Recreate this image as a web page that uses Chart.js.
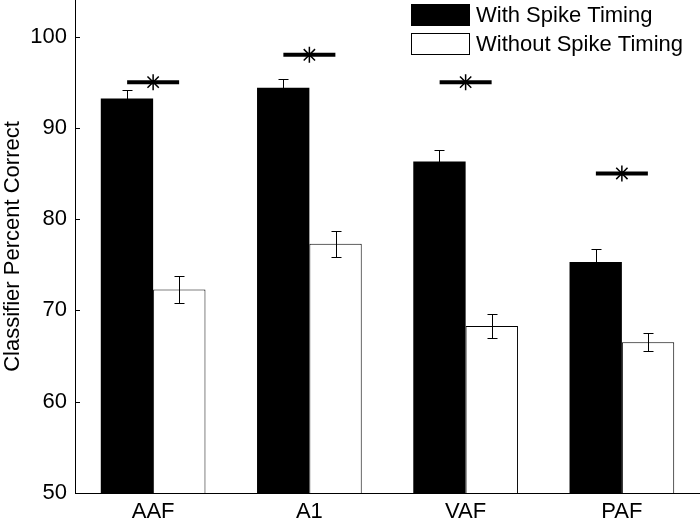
<!DOCTYPE html>
<html>
<head>
<meta charset="utf-8">
<script src="https://cdn.jsdelivr.net/npm/chart.js@4"></script>
<style>
  html, body { margin: 0; padding: 0; background: #fff; }
  #wrap { width: 700px; height: 519px; }
</style>
</head>
<body>
<div id="wrap"><canvas id="chart" width="700" height="519"></canvas></div>
<script>
// data
const categories = ['AAF', 'A1', 'VAF', 'PAF'];
const withTiming = [93.2, 94.4, 86.3, 75.3];
const withTimingErr = [0.95, 0.9, 1.3, 1.45];
const withoutTiming = [72.3, 77.3, 68.3, 66.5];
const withoutTimingErr = [1.45, 1.45, 1.35, 1.0];
const sigLevel = [95, 98, 95, 85];
const yTicks = [50, 60, 70, 80, 90, 100];

const FONT = "'Liberation Sans', Arial, sans-serif";

// error bars on top of the bars
const errorBars = {
    id: 'errorBars',
    afterDatasetsDraw(chart) {
        const ctx = chart.ctx;
        const y = chart.scales.y;
        [[0, withTimingErr], [1, withoutTimingErr]].forEach(([di, errs]) => {
            const meta = chart.getDatasetMeta(di);
            const vals = chart.data.datasets[di].data;
            meta.data.forEach((bar, i) => {
                const x = Math.round(bar.x) + 0.5;
                const top = Math.round(y.getPixelForValue(vals[i] + errs[i])) + 0.5;
                const bot = Math.round(y.getPixelForValue(vals[i] - errs[i])) + 0.5;
                ctx.save();
                ctx.strokeStyle = '#000';
                ctx.lineWidth = 1;
                ctx.beginPath();
                ctx.moveTo(x, top); ctx.lineTo(x, bot);
                ctx.moveTo(x - 5, top); ctx.lineTo(x + 5, top);
                ctx.moveTo(x - 5, bot); ctx.lineTo(x + 5, bot);
                ctx.stroke();
                ctx.restore();
            });
        });
    }
};

// inward y ticks + legend box (matlab style)
const decorations = {
    id: 'decorations',
    afterDraw(chart) {
        const ctx = chart.ctx;
        const y = chart.scales.y;
        const left = chart.chartArea.left;
        ctx.save();
        ctx.strokeStyle = '#000';
        ctx.lineWidth = 1;
        ctx.beginPath();
        yTicks.forEach(v => {
            const py = Math.round(y.getPixelForValue(v)) + 0.5;
            ctx.moveTo(left, py);
            ctx.lineTo(left + 5, py);
        });
        ctx.stroke();

        // legend
        const ds = chart.data.datasets.slice(0, 2);
        ctx.font = '22px ' + FONT;
        ctx.textBaseline = 'middle';
        ctx.textAlign = 'left';
        ds.forEach((d, i) => {
            const top = 4 + i * 29;
            ctx.fillStyle = d.backgroundColor;
            ctx.fillRect(411, top, 59, 22);
            ctx.strokeStyle = '#000';
            ctx.strokeRect(411.5, top + 0.5, 58, 21);
            ctx.fillStyle = '#000';
            ctx.fillText(d.label, 476, top + 12);
        });
        ctx.restore();
    }
};

new Chart(document.getElementById('chart'), {
    type: 'bar',
    data: {
        labels: categories,
        datasets: [
            {
                label: 'With Spike Timing',
                data: withTiming,
                backgroundColor: '#000000',
                borderColor: '#000000',
                borderWidth: 0,
                categoryPercentage: 0.67,
                barPercentage: 1.0,
                order: 2
            },
            {
                label: 'Without Spike Timing',
                data: withoutTiming,
                backgroundColor: '#ffffff',
                borderColor: '#000000',
                borderWidth: 1,
                categoryPercentage: 0.67,
                barPercentage: 1.0,
                order: 2
            },
            {
                type: 'line',
                label: 'sig',
                data: sigLevel,
                showLine: false,
                pointStyle: 'line',
                pointRadius: 26,
                pointBorderWidth: 4,
                pointBorderColor: '#000',
                order: 1
            },
            {
                type: 'line',
                label: 'star',
                data: sigLevel,
                showLine: false,
                pointStyle: 'star',
                pointRadius: 8,
                pointBorderWidth: 1.5,
                pointBorderColor: '#000',
                order: 0
            }
        ]
    },
    options: {
        responsive: false,
        animation: false,
        layout: { padding: 0, autoPadding: false },
        plugins: {
            legend: { display: false },
            tooltip: { enabled: false }
        },
        scales: {
            x: {
                grid: { display: true, drawOnChartArea: false, drawTicks: false },
                border: { display: true, color: '#000', width: 1 },
                ticks: { color: '#000', font: { family: FONT, size: 22 }, padding: 6, maxRotation: 0 },
                afterFit(scale) {
                    scale.height = 26;
                    scale.paddingLeft = 0;
                    scale.paddingRight = 0;
                }
            },
            y: {
                min: 50,
                max: 104,
                afterBuildTicks(scale) { scale.ticks = yTicks.map(v => ({ value: v })); },
                grid: { display: true, drawOnChartArea: false, drawTicks: false },
                border: { display: true, color: '#000', width: 1 },
                ticks: { color: '#000', font: { family: FONT, size: 22 }, padding: 8 },
                title: {
                    display: true,
                    text: 'Classifier Percent Correct',
                    color: '#000',
                    font: { family: FONT, size: 22 },
                    padding: { top: 0, bottom: 0 }
                },
                afterFit(scale) {
                    scale.width = 75;
                    scale.paddingTop = 0;
                    scale.paddingBottom = 0;
                }
            }
        }
    },
    plugins: [errorBars, decorations]
});
</script>
</body>
</html>
